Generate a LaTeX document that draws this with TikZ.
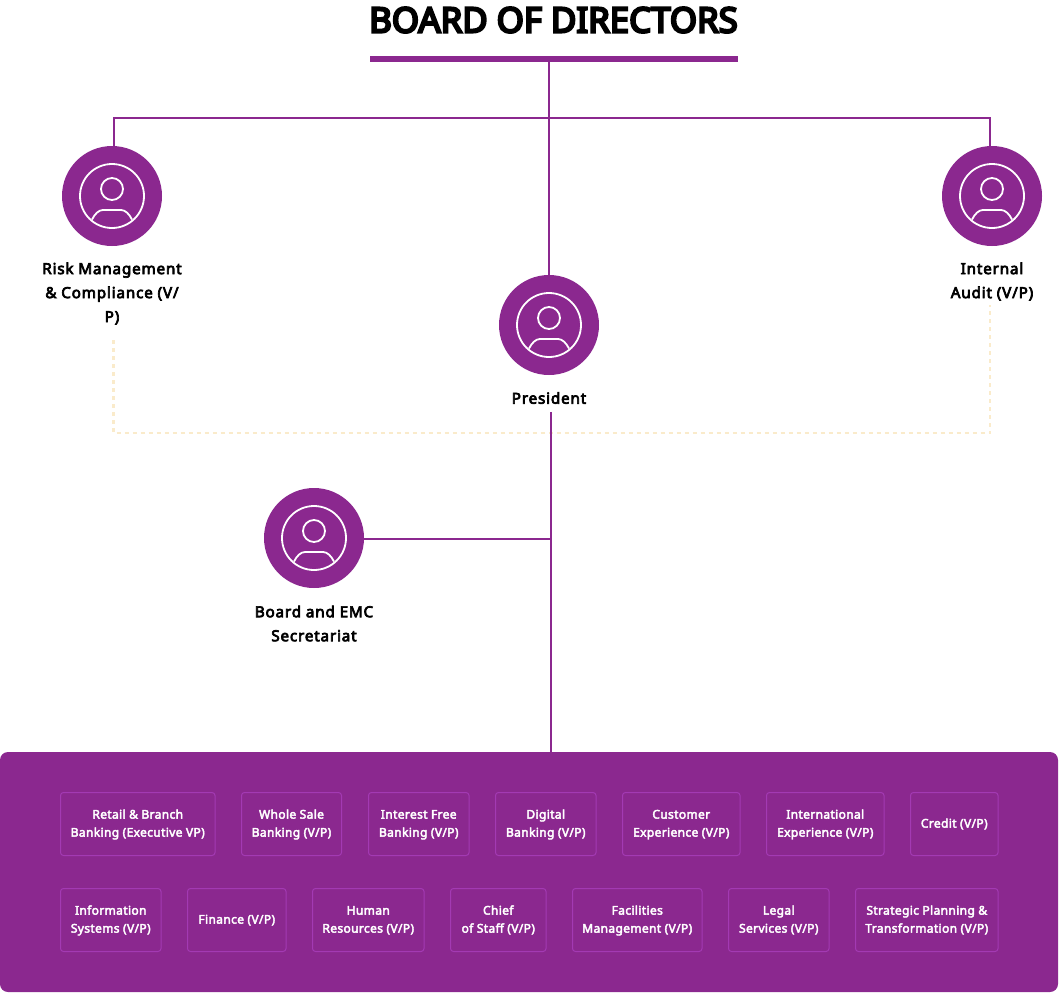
\documentclass[tikz,border=0pt]{standalone}
\usepackage{fontspec}
\setmainfont{Noto Sans}
\newfontfamily\titlefont{Noto Sans}[FakeBold=6.5]
\newfontfamily\lblfont{Noto Sans}[FakeBold=4.5,LetterSpace=5.5]
\newfontfamily\unitfont{Noto Sans}[FakeBold=3.5,LetterSpace=3]
\usetikzlibrary{calc}
\definecolor{plum}{HTML}{8B288F}
\definecolor{boxline}{HTML}{A33AB3}
\definecolor{cream}{HTML}{FAEBCB}
\tikzset{
  x=1pt,y=-1pt,
  every node/.style={inner sep=0pt,outer sep=0pt},
  conn/.style={draw=plum,line width=2pt},
  dashconn/.style={draw=cream,line width=2.6pt,dash pattern=on 4pt off 4pt},
  circ/.style={circle,fill=plum,minimum size=100pt},
  lbl/.style={align=center,font=\lblfont\fontsize{15.2}{24}\selectfont,text=black},
  unit/.style={draw=boxline,line width=1pt,rounded corners=3pt,align=center,text=white,
     font=\unitfont\fontsize{12}{18}\selectfont},
  person/.pic={
    \draw[white,line width=1.8pt] (0,0) circle[radius=32];
    \draw[white,line width=1.8pt] (0,-7) circle[radius=11];
    \draw[white,line width=1.8pt] (-20,23.5) .. controls (-17,17.5) and (-13,14) .. (-9,14) -- (9,14) .. controls (13,14) and (17,17.5) .. (20,23.5);
  }
}
\newcommand{\unitbox}[6]{\node[unit,minimum width=#4-#3,minimum height=#6-#5] (#1) at ({(#3+#4)/2},{(#5+#6)/2}) {\raisebox{-1pt}{\begin{tabular}{@{}c@{}}#2\end{tabular}}};}
\begin{document}
\begin{tikzpicture}
\useasboundingbox (0,0) rectangle (1064,993);
\node[font=\titlefont\fontsize{34.8}{40}\selectfont,text=black] (title) at (553.5,20) {BOARD OF DIRECTORS};
\node[fill=plum,minimum width=368pt,minimum height=6pt] (bar) at (554,59) {};
\coordinate (hub) at (549,118);
\node[circ] (risk) at (112,196) {};
\node[circ] (audit) at (992,196) {};
\node[circ] (pres) at (549,325) {};
\node[circ] (sec) at (314,538) {};
\foreach \n in {risk,audit,pres,sec} \pic at (\n) {person};
\node[lbl] (risklbl) at (112,293.5) {Risk Management\\\& Compliance (V/\\P)};
\node[lbl] (auditlbl) at (992,281.5) {Internal\\Audit (V/P)};
\node[lbl] (preslbl) at (549,398) {President};
\node[lbl] (seclbl) at (314,623.5) {Board and EMC\\Secretariat};
\node[fill=plum,rounded corners=8pt,minimum width=1058pt,minimum height=240pt] (panel) at (529,872) {};
\coordinate (riskdrop) at (113.5,146);
\coordinate (auditdrop) at (990,146);
\coordinate (branch) at (550.5,539);
\coordinate (dashl) at (113.5,433);
\coordinate (dashr) at (990,433);
\draw[dashconn] (113.5,340) -- (dashl) -- (dashr) -- (990,305);
\draw[conn] (hub |- bar.south) -- (hub |- pres.north);
\draw[conn] (riskdrop) -- (hub -| riskdrop) -- (hub -| auditdrop) -- (auditdrop);
\draw[conn] (branch |- preslbl.south) ++(0,8) -- (branch |- panel.north);
\draw[conn] (sec.east) ++(0,1) -- (branch);
\unitbox{u1}{Retail \& Branch\\Banking (Executive VP)}{60.5}{215}{792.5}{855.5}
\unitbox{u2}{Whole Sale\\Banking (V/P)}{241.5}{341.5}{792.5}{855.5}
\unitbox{u3}{Interest Free\\Banking (V/P)}{368.5}{469}{792.5}{855.5}
\unitbox{u4}{Digital\\Banking (V/P)}{495.5}{596}{792.5}{855.5}
\unitbox{u5}{Customer\\Experience (V/P)}{622.5}{740}{792.5}{855.5}
\unitbox{u6}{International\\Experience (V/P)}{766.5}{884}{792.5}{855.5}
\unitbox{u7}{Credit (V/P)}{910.5}{998}{792.5}{855.5}
\unitbox{v1}{Information\\Systems (V/P)}{60.5}{161}{888.5}{951.5}
\unitbox{v2}{Finance (V/P)}{187.5}{286}{888.5}{951.5}
\unitbox{v3}{Human\\Resources (V/P)}{312.5}{424}{888.5}{951.5}
\unitbox{v4}{Chief\\of Staff (V/P)}{450.5}{546}{888.5}{951.5}
\unitbox{v5}{Facilities\\Management (V/P)}{572.5}{702}{888.5}{951.5}
\unitbox{v6}{Legal\\Services (V/P)}{728.5}{829}{888.5}{951.5}
\unitbox{v7}{Strategic Planning \&\\Transformation (V/P)}{855.5}{998}{888.5}{951.5}
\end{tikzpicture}
\end{document}
